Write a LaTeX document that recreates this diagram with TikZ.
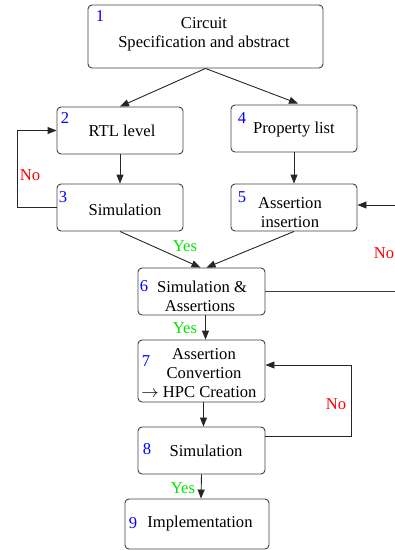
\documentclass[tikz,border=0pt]{standalone}
\usepackage{fontspec}
\setmainfont{Liberation Serif}
\usetikzlibrary{arrows.meta,calc}
\begin{document}
\begin{tikzpicture}[x=1pt,y=-1pt,
  font=\fontsize{16.6}{19}\selectfont,
  box/.style={draw=black!75,line width=0.9pt,rounded corners=4pt,inner sep=0pt},
  txt/.style={align=center,inner sep=0pt},
  num/.style={text=blue,inner sep=0pt},
  arr/.style={draw=black!85,line width=0.9pt,-{Triangle[length=9pt,width=7pt]}},
  ln/.style={draw=black!75,line width=0.9pt},
  yes/.style={text=green!90!black,inner sep=0pt},
  no/.style={text=red,inner sep=0pt}]
\useasboundingbox (0,0) rectangle (395,550);
% boxes
\node[box,minimum width=235pt,minimum height=63pt] (b1) at (205.5,36.5) {};
\node[box,minimum width=126pt,minimum height=47pt] (b2) at (120,130.5) {};
\node[box,minimum width=126pt,minimum height=47pt] (b4) at (294,128.5) {};
\node[box,minimum width=126pt,minimum height=47pt] (b3) at (120,207.5) {};
\node[box,minimum width=126pt,minimum height=47pt] (b5) at (294,207.5) {};
\node[box,minimum width=127pt,minimum height=47pt] (b6) at (201.5,291.5) {};
\node[box,minimum width=127pt,minimum height=62pt] (b7) at (201.5,371) {};
\node[box,minimum width=127pt,minimum height=47pt] (b8) at (201.5,450.5) {};
\node[box,minimum width=144pt,minimum height=50pt] (b9) at (197,524) {};
% texts
\node[txt] (t1) at (204,34) {Circuit\\Specification and abstract};
\node[txt] (t2) at (122,131) {RTL level};
\node[txt] (t4) at (294,130) {Property list};
\node[txt] (t3) at (125,210) {Simulation};
\node[txt] (t5) at (290,213) {Assertion\\insertion};
\node[txt] (t6) at (200,296) {\hspace*{4pt}Simulation \&\\Assertions};
\node[txt] (t7) at (204,373) {Assertion\\Convertion\\\hspace*{-10pt}$\rightarrow$ HPC Creation};
\node[txt] (t8) at (206,451) {Simulation};
\node[txt] (t9) at (200,524) {Implementation};
% numbers
\node[num] (n1) at (100,16) {1};
\node[num] (n2) at (65,118) {2};
\node[num] (n4) at (242,118) {4};
\node[num] (n3) at (63,197) {3};
\node[num] (n5) at (242,197) {5};
\node[num] (n6) at (144,286) {6};
\node[num] (n7) at (146,361) {7};
\node[num] (n8) at (147,449) {8};
\node[num] (n9) at (133,523) {9};
% connectors
\coordinate (r5) at (395,205);
\coordinate (r6) at (395,292);
\draw[arr] (b1.south) -- (b2.north);
\draw[arr] (b1.south) -- ([xshift=4pt,yshift=1pt]b4.north);
\draw[arr] (b2.south) -- (b3.north);
\draw[arr] (b4.south) -- (b5.north);
\draw[arr] (b3.west) -- ++(-39,0) |- (b2.west);
\draw[arr] (r5) -- (r5 -| b5.east);
\draw[arr] (b3.south) -- ([xshift=-1pt]b6.north);
\draw[arr] (b5.south) -- ([xshift=5pt]b6.north);
\draw[ln] (b6.east) -- (b6.east -| r6);
\draw[arr] ([xshift=4pt]b6.south) -- ([xshift=4pt]b7.north);
\draw[arr] ([xshift=2pt]b7.south) -- ([xshift=2pt]b8.north);
\draw[arr] ([yshift=14pt]b8.east) -- ++(86,0) |- ([yshift=6pt]b7.east);
\draw[arr] ([xshift=0pt]b8.south) -- ([xshift=4pt]b9.north);
% labels
\node[no] (l1) at (30,175) {No};
\node[yes] (l2) at (185,246) {Yes};
\node[no] (l3) at (384,253) {No};
\node[yes] (l4) at (185,328) {Yes};
\node[no] (l5) at (336,404) {No};
\node[yes] (l6) at (183,488) {Yes};
\end{tikzpicture}
\end{document}
